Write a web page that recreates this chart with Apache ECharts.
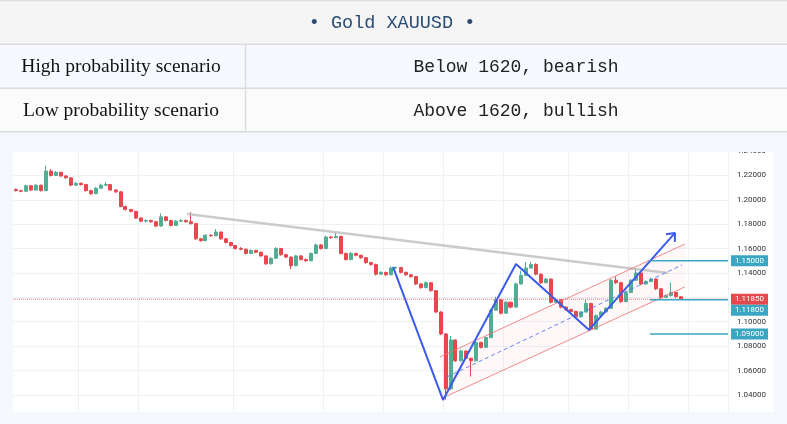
<!DOCTYPE html>
<html><head><meta charset="utf-8">
<script src="https://cdn.jsdelivr.net/npm/echarts@6/dist/echarts.min.js"></script>
<style>html,body{margin:0;padding:0;background:#fff}#c{width:787px;height:424px}</style>
</head><body><div id="c"></div>
<script>
// ---------- data ----------
const titleText = '\u2022 Gold XAUUSD \u2022';
const rowLabels = ['High probability scenario', 'Low probability scenario'];
const rowValues = ['Below 1620, bearish', 'Above 1620, bullish'];

// candles: [open, close, low, high]
const ohlc = [
[1.2085,1.2075,1.2068,1.2092],[1.2075,1.2070,1.2062,1.2082],[1.2070,1.2115,1.2066,1.2124],[1.2115,1.2080,1.2074,1.2120],
[1.2080,1.2120,1.2076,1.2130],[1.2120,1.2075,1.2068,1.2124],[1.2075,1.2235,1.2070,1.2280],[1.2235,1.2200,1.2190,1.2252],
[1.2200,1.2225,1.2194,1.2236],[1.2225,1.2195,1.2188,1.2230],[1.2195,1.2180,1.2172,1.2203],[1.2180,1.2120,1.2112,1.2186],
[1.2120,1.2135,1.2114,1.2146],[1.2135,1.2125,1.2116,1.2142],[1.2125,1.2075,1.2068,1.2130],[1.2075,1.2050,1.2040,1.2082],
[1.2050,1.2095,1.2046,1.2104],[1.2095,1.2120,1.2090,1.2132],[1.2120,1.2125,1.2112,1.2145],[1.2125,1.2080,1.2074,1.2130],
[1.2080,1.2065,1.2056,1.2088],[1.2065,1.1945,1.1938,1.2072],[1.1945,1.1920,1.1912,1.1952],[1.1920,1.1905,1.1896,1.1926],
[1.1905,1.1850,1.1842,1.1910],[1.1850,1.1825,1.1816,1.1858],[1.1825,1.1830,1.1815,1.1840],[1.1830,1.1820,1.1810,1.1838],
[1.1820,1.1785,1.1776,1.1826],[1.1785,1.1860,1.1780,1.1890],[1.1860,1.1830,1.1822,1.1866],[1.1830,1.1790,1.1782,1.1836],
[1.1790,1.1825,1.1786,1.1834],[1.1825,1.1830,1.1818,1.1842],[1.1830,1.1820,1.1812,1.1838],[1.1820,1.1805,1.1796,1.1900],
[1.1805,1.1680,1.1672,1.1810],[1.1680,1.1665,1.1656,1.1688],[1.1665,1.1710,1.1660,1.1718],[1.1710,1.1705,1.1696,1.1716],
[1.1705,1.1735,1.1700,1.1760],[1.1735,1.1680,1.1672,1.1740],[1.1680,1.1650,1.1642,1.1686],[1.1650,1.1625,1.1616,1.1656],
[1.1625,1.1600,1.1592,1.1630],[1.1600,1.1595,1.1586,1.1612],[1.1595,1.1560,1.1552,1.1600],[1.1560,1.1585,1.1554,1.1594],
[1.1585,1.1570,1.1562,1.1590],[1.1570,1.1540,1.1532,1.1576],[1.1540,1.1475,1.1466,1.1546],[1.1475,1.1520,1.1470,1.1528],
[1.1520,1.1600,1.1515,1.1612],[1.1600,1.1550,1.1542,1.1606],[1.1550,1.1530,1.1522,1.1556],[1.1530,1.1460,1.1430,1.1536],
[1.1460,1.1540,1.1455,1.1548],[1.1540,1.1510,1.1502,1.1546],[1.1510,1.1500,1.1490,1.1518],[1.1500,1.1560,1.1495,1.1568],
[1.1560,1.1630,1.1555,1.1640],[1.1630,1.1600,1.1592,1.1636],[1.1600,1.1695,1.1596,1.1706],[1.1695,1.1690,1.1680,1.1702],
[1.1690,1.1700,1.1684,1.1730],[1.1700,1.1560,1.1552,1.1706],[1.1560,1.1510,1.1502,1.1566],[1.1510,1.1560,1.1505,1.1572],
[1.1560,1.1545,1.1536,1.1566],[1.1545,1.1525,1.1516,1.1550],[1.1525,1.1485,1.1476,1.1530],[1.1485,1.1470,1.1460,1.1492],
[1.1470,1.1390,1.1380,1.1476],[1.1390,1.1405,1.1384,1.1414],[1.1405,1.1385,1.1376,1.1410],[1.1385,1.1440,1.1380,1.1455],
[1.1440,1.1445,1.1432,1.1452],[1.1445,1.1405,1.1396,1.1450],[1.1405,1.1385,1.1376,1.1410],[1.1385,1.1370,1.1360,1.1392],
[1.1370,1.1310,1.1300,1.1376],[1.1310,1.1280,1.1270,1.1316],[1.1280,1.1320,1.1275,1.1332],[1.1320,1.1255,1.1246,1.1326],
[1.1255,1.1080,1.1070,1.1260],[1.1080,1.0900,1.0890,1.1086],[1.0900,1.0450,1.0362,1.0906],[1.0450,1.0850,1.0440,1.0885],
[1.0850,1.0680,1.0670,1.0856],[1.0680,1.0760,1.0675,1.0772],[1.0760,1.0700,1.0690,1.0766],[1.0700,1.0680,1.0550,1.0706],
[1.0680,1.0830,1.0675,1.0842],[1.0830,1.0790,1.0780,1.0836],[1.0790,1.0870,1.0785,1.0880],[1.0870,1.1095,1.0865,1.1105],
[1.1095,1.1180,1.1090,1.1205],[1.1180,1.1070,1.1060,1.1186],[1.1070,1.1160,1.1064,1.1170],[1.1160,1.1120,1.1110,1.1166],
[1.1120,1.1310,1.1115,1.1320],[1.1310,1.1380,1.1305,1.1420],[1.1380,1.1440,1.1375,1.1490],[1.1440,1.1470,1.1435,1.1492],
[1.1470,1.1390,1.1380,1.1480],[1.1390,1.1320,1.1310,1.1396],[1.1320,1.1350,1.1314,1.1360],[1.1350,1.1160,1.1150,1.1356],
[1.1160,1.1180,1.1154,1.1190],[1.1180,1.1120,1.1110,1.1186],[1.1120,1.1100,1.1090,1.1126],[1.1100,1.1085,1.1076,1.1106],
[1.1085,1.1040,1.1030,1.1090],[1.1040,1.1080,1.1035,1.1088],[1.1080,1.1150,1.1075,1.1180],[1.1150,1.0940,1.0930,1.1156],
[1.0940,1.1050,1.0935,1.1060],[1.1050,1.1080,1.1044,1.1090],[1.1080,1.1110,1.1074,1.1120],[1.1110,1.1340,1.1105,1.1350],
[1.1340,1.1320,1.1310,1.1370],[1.1320,1.1165,1.1155,1.1326],[1.1165,1.1240,1.1160,1.1250],[1.1240,1.1340,1.1235,1.1350],
[1.1340,1.1400,1.1335,1.1440],[1.1400,1.1310,1.1300,1.1406],[1.1310,1.1330,1.1304,1.1340],[1.1330,1.1350,1.1324,1.1360],
[1.1350,1.1270,1.1260,1.1356],[1.1270,1.1200,1.1190,1.1276],[1.1200,1.1215,1.1194,1.1224],[1.1215,1.1240,1.1205,1.1320],
[1.1240,1.1205,1.1196,1.1246],[1.1205,1.1185,1.1178,1.1210]
];
const emptySlots = 9;
const categories = ohlc.map((d, i) => 'D' + (i + 1)).concat(Array.from({length: emptySlots}, (d, i) => 'E' + (i + 1)));
const verticalGridAt = [13, 25, 44, 62, 74, 86, 98, 111, 123, 135];
const yTicks = [1.04, 1.06, 1.08, 1.10, 1.12, 1.14, 1.16, 1.18, 1.20, 1.22, 1.24];

// drawings, in [slot position, price]
const trendLine = [[34.8, 1.1884], [131.0, 1.1400]];
const zigzag = [[76.0, 1.1450], [86.0, 1.0359], [100.6, 1.1474], [115.2, 1.0933], [132.4, 1.1728]];
const arrowHead = [[130.6, 1.1718], [132.4, 1.1728], [132.36, 1.1655]];
const channelUpper = [[85.4, 1.0712], [134.4, 1.1638]];
const channelLower = [[86.4, 1.0384], [134.4, 1.1286]];
const channelMid = [[86.8, 1.0548], [133.8, 1.1466]];
const lastPrice = 1.1185;
const levels = [1.15, 1.118, 1.09];
const levelStart = 127.4;

// ---------- chart ----------
const chart = echarts.init(document.getElementById('c'));
const total = categories.length;
const BG = '#f5f9fe';
const UP = '#52ad95', DOWN = '#e5484d', TEAL = '#3aa6c2';

const baseGraphics = [
  {type:'rect', z:-10, shape:{x:13, y:152, width:760, height:260}, style:{fill:'#ffffff'}},
  {type:'rect', z:-10, shape:{x:0, y:0, width:787, height:44}, style:{fill:'#f5f5f5'}},
  {type:'rect', z:-10, shape:{x:0, y:44, width:787, height:44}, style:{fill:'#f6f9fe'}},
  {type:'rect', z:-10, shape:{x:0, y:88, width:787, height:44}, style:{fill:'#fbfbfb'}},
  {type:'rect', z:50, shape:{x:0, y:132.5, width:787, height:19.5}, style:{fill:BG}},
  {type:'line', z:60, shape:{x1:0, y1:0.5, x2:787, y2:0.5}, style:{stroke:'#dcdcdc', lineWidth:1.5}},
  {type:'line', z:60, shape:{x1:0, y1:44.3, x2:787, y2:44.3}, style:{stroke:'#dcdcdc', lineWidth:1.5}},
  {type:'line', z:60, shape:{x1:0, y1:88.3, x2:787, y2:88.3}, style:{stroke:'#dcdcdc', lineWidth:1.5}},
  {type:'line', z:60, shape:{x1:0, y1:131.7, x2:787, y2:131.7}, style:{stroke:'#dcdcdc', lineWidth:1.5}},
  {type:'line', z:60, shape:{x1:245.5, y1:44, x2:245.5, y2:132}, style:{stroke:'#dcdcdc', lineWidth:1.5}},
  {type:'text', z:60, style:{x:392, y:23, text:titleText, fill:'#2b4d72', font:'18.5px "Liberation Mono"', align:'center', verticalAlign:'middle'}},
  {type:'text', z:60, style:{x:121, y:67, text:rowLabels[0], fill:'#111', font:'19.5px "Liberation Serif"', align:'center', verticalAlign:'middle'}},
  {type:'text', z:60, style:{x:121, y:111, text:rowLabels[1], fill:'#111', font:'19.5px "Liberation Serif"', align:'center', verticalAlign:'middle'}},
  {type:'text', z:60, style:{x:516, y:67, text:rowValues[0], fill:'#222', font:'18px "Liberation Mono"', align:'center', verticalAlign:'middle'}},
  {type:'text', z:60, style:{x:516, y:111, text:rowValues[1], fill:'#222', font:'18px "Liberation Mono"', align:'center', verticalAlign:'middle'}}
];

const lineSeries = (data, color, width, type) => ({
  type:'line', xAxisIndex:1, yAxisIndex:0, data:data, symbol:'none', silent:true,
  lineStyle:{color:color, width:width, type:type || 'solid'}, z:5
});

const option = {
  animation:false,
  backgroundColor: BG,
  grid:{left:13, right:59, top:151, bottom:12},
  xAxis:[
    {type:'category', data:categories, boundaryGap:true,
     axisLine:{show:false}, axisTick:{show:false}, axisLabel:{show:false},
     splitLine:{show:true, interval:(i) => verticalGridAt.indexOf(i) >= 0, lineStyle:{color:'#eef1f5', width:1}}},
    {type:'value', min:0, max:total, show:false}
  ],
  yAxis:[{
    type:'value', position:'right', min:1.026, max:1.24,
    axisLine:{show:false},
    axisTick:{show:false, customValues:yTicks},
    axisLabel:{customValues:yTicks, formatter:(v) => Number(v).toFixed(5), color:'#333', fontSize:8, fontFamily:'Roboto', margin:9},
    splitLine:{show:true, lineStyle:{color:'#eef1f5', width:1}}
  }],
  series:[
    {type:'custom', xAxisIndex:1, yAxisIndex:0, silent:true, data:[[0]], z:1,
     renderItem:(params, api) => ({
       type:'polygon',
       shape:{points:[channelUpper[0], channelUpper[1], channelLower[1], channelLower[0]].map(p => api.coord(p))},
       style:{fill:'rgba(242,80,90,0.04)'}
     })},
    {type:'candlestick', xAxisIndex:0, yAxisIndex:0, data:ohlc, barWidth:3.5, silent:true, z:3,
     itemStyle:{color:UP, color0:DOWN, borderColor:UP, borderColor0:DOWN, borderWidth:1}},
    lineSeries(trendLine, 'rgba(185,185,185,0.75)', 2.5),
    lineSeries(channelUpper, 'rgba(240,110,110,0.8)', 1),
    lineSeries(channelLower, 'rgba(240,110,110,0.8)', 1),
    lineSeries(channelMid, 'rgba(80,110,240,0.85)', 1, [4, 3]),
    lineSeries(zigzag, '#3b5bea', 2),
    lineSeries(arrowHead, '#3b5bea', 2),
    lineSeries([[0, lastPrice], [total, lastPrice]], 'rgba(229,72,77,0.75)', 1, 'dotted'),
    lineSeries([[levelStart, levels[0]], [total, levels[0]]], TEAL, 1.5),
    lineSeries([[levelStart, levels[1]], [total, levels[1]]], TEAL, 1.5),
    lineSeries([[levelStart, levels[2]], [total, levels[2]]], TEAL, 1.5)
  ],
  graphic: baseGraphics
};
chart.setOption(option);

// price tags on the right axis, placed through the axis scale
const tagX = chart.convertToPixel({xAxisIndex:1}, total) + 3;
const tag = (value, color, dy) => {
  const y = chart.convertToPixel({yAxisIndex:0}, value) + dy;
  return [
    {type:'rect', z:70, shape:{x:tagX, y:y - 5.5, width:37, height:11}, style:{fill:color}},
    {type:'text', z:71, style:{x:tagX + 18.5, y:y, text:value.toFixed(5), fill:'#fff', font:'8px Roboto', align:'center', verticalAlign:'middle'}}
  ];
};
const tags = [].concat(
  tag(levels[0], TEAL, 0),
  tag(lastPrice, DOWN, 0),
  tag(levels[1], TEAL, 10.5),
  tag(levels[2], TEAL, 0)
);
chart.setOption({graphic: baseGraphics.concat(tags)});
</script>
</body></html>
